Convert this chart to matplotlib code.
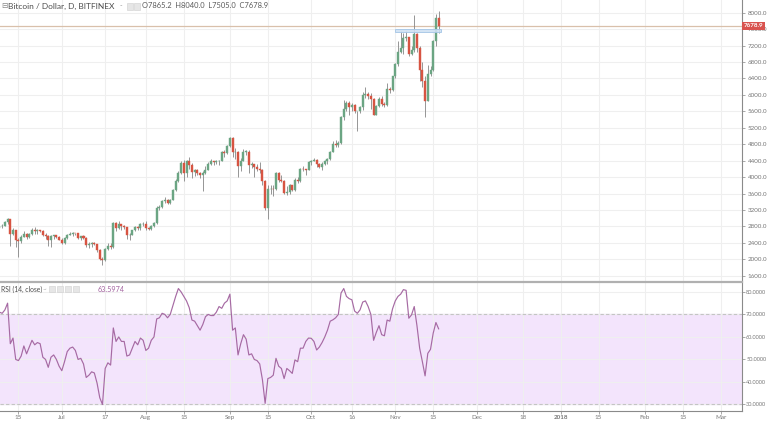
import numpy as np
import pandas as pd
import matplotlib
matplotlib.use("Agg")
import matplotlib.pyplot as plt
import matplotlib.dates as mdates
from matplotlib.patches import Rectangle
from matplotlib.lines import Line2D

plt.rcParams['font.family'] = ['Lato', 'DejaVu Sans']

# daily candles, Jun 8 2017 -> Nov 17 2017 (BTC/USD, Bitfinex)
dates = pd.date_range("2017-06-08", "2017-11-17", freq="D")

open_ = [2750, 2800, 2820, 2900, 2980, 2620, 2700, 2470, 2450, 2550, 2620, 2540, 2620, 2720, 2680, 2700, 2690, 2600, 2560, 2470, 2560, 2580, 2540,
         2480, 2400, 2510, 2590, 2620, 2640, 2630, 2520, 2560, 2520, 2340, 2380, 2400, 2360, 2230, 2000, 1970, 2250, 2330, 2310, 2880, 2760, 2860, 2800, 2780, 2580, 2600, 2700, 2780, 2760, 2850,
         2870, 2750, 2740, 2800, 2880, 3250, 3260, 3420, 3450, 3380, 3440, 3680, 3900, 4100, 4350, 4100, 4380, 4300, 4120, 4180, 4100, 4050, 4100, 4180, 4330, 4380, 4360, 4380, 4400, 4600, 4580,
         4750, 4950, 4600, 4620, 4280, 4400, 4620, 4620, 4300, 4320, 4250, 4200, 4180, 3900, 3250, 3700, 3710, 3700, 4100, 3920, 3900, 3620, 3640, 3800, 3680, 3940, 3900, 4200, 4190, 4170,
         4360, 4400, 4420, 4320, 4240, 4320, 4380, 4450, 4620, 4800, 4780, 4820, 5450, 5650, 5800, 5700, 5750, 5600, 5600, 5700, 6000, 6020, 5980, 5900, 5520, 5740, 5900, 5780, 5750, 6150, 6120,
         6450, 6750, 7050, 7150, 7380, 7400, 7000, 7100, 7470, 7150, 6600, 6350, 5850, 6500, 6600, 7300, 7865.2]
high = [2850, 2850, 2930, 3000, 2990, 2760, 2720, 2520, 2600, 2680, 2650, 2640, 2760, 2780, 2730, 2720, 2700, 2640, 2600, 2580, 2600, 2600, 2560,
        2510, 2530, 2620, 2660, 2660, 2650, 2640, 2570, 2580, 2530, 2420, 2420, 2430, 2370, 2240, 2060, 2280, 2400, 2400, 2900, 2900, 2920, 2870, 2830, 2790, 2630, 2720, 2820, 2800, 2880, 2900,
        2920, 2790, 2830, 2900, 3300, 3320, 3440, 3520, 3470, 3460, 3720, 3950, 4150, 4380, 4420, 4420, 4480, 4350, 4200, 4200, 4120, 4150, 4270, 4360, 4450, 4400, 4420, 4420, 4640, 4650, 4780,
        4980, 4980, 4700, 4630, 4460, 4680, 4650, 4670, 4370, 4330, 4320, 4360, 4190, 3920, 3800, 3800, 3800, 4130, 4120, 4050, 3920, 3780, 3830, 3810, 3980, 3990, 4230, 4260, 4200, 4380,
        4420, 4470, 4440, 4340, 4360, 4420, 4470, 4640, 4880, 4900, 4870, 5480, 5880, 5850, 5850, 5800, 5780, 5620, 5740, 6080, 6200, 6080, 6050, 5920, 5760, 5950, 5970, 5830, 6300, 6200, 6470,
        6780, 7300, 7550, 7500, 7550, 7420, 7200, 7950, 7500, 7200, 6800, 6450, 6720, 6700, 7330, 7980, 8040.0]
low = [2700, 2770, 2800, 2870, 2320, 2580, 2300, 2060, 2400, 2530, 2500, 2510, 2600, 2620, 2620, 2660, 2560, 2500, 2330, 2300, 2500, 2510, 2460,
       2380, 2370, 2500, 2580, 2560, 2600, 2500, 2480, 2500, 2300, 2270, 2300, 2340, 2180, 1980, 1870, 1950, 2220, 2260, 2280, 2680, 2740, 2720, 2740, 2500, 2470, 2580, 2690, 2710, 2700, 2820,
       2700, 2700, 2720, 2780, 2870, 3200, 3240, 3380, 3350, 3340, 3430, 3660, 3880, 4080, 3900, 4000, 4200, 3980, 4020, 4050, 3980, 3650, 4080, 4160, 4300, 4300, 4320, 4300, 4380, 4500, 4560,
       4740, 4500, 4450, 4000, 4150, 4380, 4540, 4100, 4220, 4000, 4150, 4100, 3800, 3200, 2980, 3600, 3550, 3690, 3880, 3870, 3580, 3570, 3600, 3650, 3670, 3860, 3890, 4140, 4050, 4160,
       4300, 4380, 4250, 4210, 4170, 4300, 4330, 4420, 4600, 4740, 4740, 4800, 5400, 5600, 5500, 5600, 5550, 5130, 5570, 5640, 5920, 5900, 5650, 5500, 5500, 5700, 5720, 5700, 5720, 6050, 6100,
       6400, 6700, 7020, 7000, 7300, 6950, 6980, 7050, 7050, 6350, 6200, 5450, 5850, 6450, 6580, 7200, 7505.0]
close = [2800, 2820, 2900, 2980, 2620, 2700, 2470, 2450, 2550, 2620, 2540, 2620, 2720, 2680, 2700, 2690, 2600, 2560, 2470, 2560, 2580, 2540, 2480,
         2400, 2510, 2590, 2620, 2640, 2630, 2520, 2560, 2520, 2340, 2380, 2400, 2360, 2230, 2000, 1970, 2250, 2330, 2310, 2880, 2760, 2860, 2800, 2780, 2580, 2600, 2700, 2780, 2760, 2850, 2870,
         2750, 2740, 2800, 2880, 3250, 3260, 3420, 3450, 3380, 3440, 3680, 3900, 4100, 4350, 4100, 4380, 4300, 4120, 4180, 4100, 4050, 4100, 4180, 4330, 4380, 4360, 4380, 4400, 4600, 4580, 4750,
         4950, 4600, 4620, 4280, 4400, 4620, 4620, 4300, 4320, 4250, 4200, 4180, 3900, 3250, 3700, 3710, 3700, 4100, 3920, 3900, 3620, 3640, 3800, 3680, 3940, 3900, 4200, 4190, 4170, 4360,
         4400, 4420, 4320, 4240, 4320, 4380, 4450, 4620, 4800, 4780, 4820, 5450, 5650, 5800, 5700, 5750, 5600, 5600, 5700, 6000, 6020, 5980, 5900, 5520, 5740, 5900, 5780, 5750, 6150, 6120, 6450,
         6750, 7050, 7150, 7380, 7400, 7000, 7100, 7470, 7150, 6600, 6350, 5850, 6500, 6600, 7300, 7865.2, 7678.9]

rsi = [71, 70.5, 72, 75, 57, 59.5, 50, 49.5, 51.5, 56, 52.5, 55.5, 58.5, 56.5, 57.5, 57, 51, 50, 46.5, 51, 52, 50, 47,
       45, 49, 53.5, 55, 55.5, 54, 50, 50.5, 48, 42, 43, 44.5, 44, 39.5, 33, 30, 46, 48.5, 47.5, 64, 58, 60, 58, 58, 51.5, 52, 55, 58, 56.5, 59.5, 58.5,
       54, 55, 58.5, 60, 68, 68.5, 70.5, 70, 68.5, 70, 74, 78, 81.5, 80, 78, 76, 73, 67.5, 67, 65, 63, 65.5, 69, 70, 69.5, 69.5, 71, 73.5, 72.7, 75, 76,
       79, 63, 64, 52, 57, 61, 59, 52, 52.5, 50, 49.5, 48, 41, 30.5, 41.5, 42, 43, 50.5, 47, 46, 41.5, 46, 45, 43.8, 49.8, 49, 55, 55, 58, 59.5,
       59.4, 58, 54.2, 55.5, 57.5, 60, 63, 67, 67.6, 68.5, 70, 79.5, 81.5, 78, 77, 76.5, 71.5, 70.5, 72, 75.5, 76, 73.5, 70, 58.5, 62, 65, 61, 60.5, 67.5, 67, 72.5,
       76, 78, 79, 81, 80.7, 68.3, 69.8, 73.5, 65, 55, 49, 42.7, 52.7, 54.5, 61.7, 66.4, 63.5974]

price_ticks = list(range(1600, 8001, 400))
rsi_ticks = [30, 40, 50, 60, 70, 80]
tick_dates = ["2017-06-15", "2017-07-01", "2017-07-17", "2017-08-01", "2017-08-15", "2017-09-01",
              "2017-09-15", "2017-10-01", "2017-10-16", "2017-11-01", "2017-11-15", "2017-12-01",
              "2017-12-18", "2018-01-01", "2018-01-15", "2018-02-01", "2018-02-15", "2018-03-01"]
tick_labels = ["15", "Jul", "17", "Aug", "15", "Sep", "15", "Oct", "16", "Nov", "15", "Dec",
               "18", "2018", "15", "Feb", "15", "Mar"]
last_price = 7678.9
zone = (7520, 7600)   # blue rectangle drawn on the chart
zone_dates = ("2017-11-01", "2017-11-18")

UP = '#6ba583'
DOWN = '#d75442'
GRID = '#efefef'
TXT = '#777777'
FS = 4.5

x = mdates.date2num(dates)
o = np.array(open_); h = np.array(high); l = np.array(low); c = np.array(close)
assert len(o) == len(h) == len(l) == len(c) == len(rsi) == len(x)

fig = plt.figure(figsize=(7.68, 4.21), dpi=100)
ax = fig.add_axes([0, 1 - 281 / 421, 742 / 768, 281 / 421])
ax2 = fig.add_axes([0, 1 - 411 / 421, 742 / 768, 129 / 421], sharex=ax)

xmin = mdates.date2num(pd.Timestamp("2017-06-08")) + 0.2
xmax = mdates.date2num(pd.Timestamp("2018-03-08")) + 0.9
txs = mdates.date2num(pd.to_datetime(tick_dates))

# ---- main candle panel
ax.set_xlim(xmin, xmax)
ax.set_ylim(1471, 8309)
up = c >= o
cols = np.where(up, UP, DOWN)
ax.vlines(x, l, h, colors='#858585', linewidth=0.6, zorder=2)
body_lo = np.minimum(o, c)
body_h = np.maximum(np.abs(c - o), 8)
ax.bar(x, body_h, bottom=body_lo, width=0.74, color=cols, edgecolor=cols, linewidth=0.3, zorder=3)

z0 = mdates.date2num(pd.Timestamp(zone_dates[0]))
z1 = mdates.date2num(pd.Timestamp(zone_dates[1]))
ax.add_patch(Rectangle((z0, zone[0]), z1 - z0, zone[1] - zone[0], facecolor='#cfe1f3',
                       edgecolor='#a6c6e6', linewidth=0.7, alpha=0.9, zorder=4))
ax.axhline(last_price, color='#d9c0ab', linewidth=0.9, zorder=1)

ax.set_yticks(price_ticks)
ax.set_yticklabels([f"{v:.1f}" for v in price_ticks])
ax.set_xticks(txs)
ax.grid(True, color=GRID, linewidth=0.8)
ax.set_axisbelow(True)
ax.yaxis.tick_right()
ax.tick_params(axis='y', labelsize=FS, colors='#9a9a9a', labelcolor=TXT, length=2.5, width=0.6, pad=1.5)
ax.tick_params(axis='x', bottom=False, labelbottom=False)
for s in ['top', 'left', 'bottom']:
    ax.spines[s].set_visible(False)
ax.spines['right'].set_color('#8a8a8a')
ax.spines['right'].set_linewidth(0.8)

ax.text(1.002, last_price, f"{last_price:.1f}", transform=ax.get_yaxis_transform(),
        fontsize=FS, color='white', va='center', ha='left', fontweight='bold',
        bbox=dict(boxstyle='square,pad=0.3', fc='#d9534f', ec='none'), clip_on=False, zorder=10)

# ---- RSI panel
ax2.set_ylim(27.1, 84.4)
ax2.axhspan(30, 70, color='#f3e4fc', zorder=0)
ax2.axhline(70, color='#c4c4c4', linewidth=0.8, linestyle=(0, (3, 2)), zorder=1)
ax2.axhline(30, color='#c4c4c4', linewidth=0.8, linestyle=(0, (3, 2)), zorder=1)
ax2.plot(x, rsi, color='#a66aa3', linewidth=0.85, zorder=3)
ax2.set_yticks(rsi_ticks)
ax2.set_yticklabels([f"{v:.4f}" for v in rsi_ticks])
ax2.set_xticks(txs)
ax2.set_xticklabels(tick_labels)
for lab in ax2.get_xticklabels():
    if lab.get_text() == "2018":
        lab.set_fontweight('bold')
ax2.grid(True, color=GRID, linewidth=0.8)
ax2.set_axisbelow(True)
ax2.yaxis.tick_right()
ax2.tick_params(axis='y', labelsize=4.0, colors='#9a9a9a', labelcolor=TXT, length=2, width=0.6, pad=1)
ax2.tick_params(axis='x', labelsize=FS, colors='#9a9a9a', labelcolor=TXT, length=2, width=0.6, pad=1)
for s in ['top', 'left']:
    ax2.spines[s].set_visible(False)
for s in ['right', 'bottom']:
    ax2.spines[s].set_color('#8a8a8a')
    ax2.spines[s].set_linewidth(0.8)

# separator between the panes
fig.add_artist(Line2D([0, 742 / 768], [1 - 281.5 / 421] * 2, color='#b0b0b0', linewidth=1.6))

# ---- header texts
fig.text(1 / 768, 1 - 6 / 421, "⊟", fontsize=5.5, color='#888888', va='center', ha='left')
fig.text(8 / 768, 1 - 6 / 421, "Bitcoin / Dollar, D, BITFINEX", fontsize=6.0, color='#4d4d4d', va='center', ha='left')
fig.text(120 / 768, 1 - 6 / 421, "-", fontsize=5, color='#999999', va='center', ha='left')
for px in (127, 134):
    fig.add_artist(Rectangle((px / 768, 1 - 9.5 / 421), 6 / 768, 6.5 / 421, facecolor='#e6e6e6',
                             edgecolor='#cfcfcf', linewidth=0.4))
fig.text(142 / 768, 1 - 6 / 421, f"O{open_[-1]:.1f}  H{high[-1]:.1f}  L{low[-1]:.1f}  C{close[-1]:.1f}",
         fontsize=5.4, color='#5a5a5a', va='center', ha='left')

fig.text(1 / 768, 1 - 289 / 421, "RSI (14, close)", fontsize=4.9, color='#4d4d4d', va='center', ha='left')
fig.text(43 / 768, 1 - 289.5 / 421, "~", fontsize=4.5, color='#999999', va='center', ha='left')
for px in (49, 57, 65, 73):
    fig.add_artist(Rectangle((px / 768, 1 - 292 / 421), 6 / 768, 6.5 / 421, facecolor='#e6e6e6',
                             edgecolor='#cfcfcf', linewidth=0.4))
fig.text(98 / 768, 1 - 289 / 421, f"{rsi[-1]:.4f}", fontsize=5.2, color='#a2629f', va='center', ha='left')

fig.savefig("out.png", dpi=100, facecolor='white')
